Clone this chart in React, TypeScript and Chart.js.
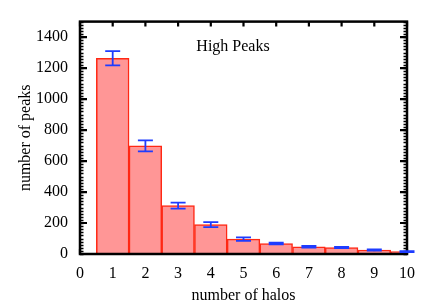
import React, { useEffect, useRef } from 'react';
import { Chart, registerables } from 'chart.js';

Chart.register(...registerables);

// ---- data ----
const halos = [1, 2, 3, 4, 5, 6, 7, 8, 9, 10];
const peaks = [1263, 698, 312, 190, 96, 68, 47, 42, 26, 15];
const peakErrors = [46, 36, 19, 16, 11, 6, 5, 4, 4, 3];
const xTicks = [0, 1, 2, 3, 4, 5, 6, 7, 8, 9, 10];
const yTicks = [0, 200, 400, 600, 800, 1000, 1200, 1400];
const yMax = 1500;
const yMinorStep = 20;
const panelTitle = 'High Peaks';
const panelTitleAt = { x: 4.68, y: 1335 };
const xAxisTitle = 'number of halos';
const yAxisTitle = 'number of peaks';

const FONT = '"Liberation Serif", "Times New Roman", serif';

const framePlugin = {
  id: 'gnuplotFrame',
  beforeDatasetsDraw(chart: any) {
    const { ctx, chartArea: a, scales } = chart;
    const ys = scales.y;
    const xs = scales.x;
    ctx.save();
    ctx.strokeStyle = '#000';
    // minor y ticks (left and right)
    ctx.lineWidth = 1.6;
    for (let v = 0; v <= yMax; v += yMinorStep) {
      const py = Math.round(ys.getPixelForValue(v)) + 0.5;
      ctx.beginPath();
      ctx.moveTo(a.left, py);
      ctx.lineTo(a.left + 3.5, py);
      ctx.moveTo(a.right, py);
      ctx.lineTo(a.right - 3.5, py);
      ctx.stroke();
    }
    // major y ticks
    ctx.lineWidth = 2.2;
    for (const v of yTicks) {
      const py = ys.getPixelForValue(v);
      ctx.beginPath();
      ctx.moveTo(a.left, py);
      ctx.lineTo(a.left + 7, py);
      ctx.moveTo(a.right, py);
      ctx.lineTo(a.right - 7, py);
      ctx.stroke();
    }
    // major x ticks (top and bottom)
    for (const v of xTicks) {
      const px = xs.getPixelForValue(v);
      ctx.beginPath();
      ctx.moveTo(px, a.top);
      ctx.lineTo(px, a.top + 5);
      ctx.moveTo(px, a.bottom);
      ctx.lineTo(px, a.bottom - 5);
      ctx.stroke();
    }
    // panel title
    ctx.fillStyle = '#000';
    ctx.font = '16px ' + FONT;
    ctx.textAlign = 'center';
    ctx.textBaseline = 'middle';
    ctx.fillText(panelTitle, xs.getPixelForValue(panelTitleAt.x), ys.getPixelForValue(panelTitleAt.y));
    ctx.restore();
  },
  afterDatasetsDraw(chart: any) {
    const { ctx, chartArea: a, scales } = chart;
    const xs = scales.x;
    const ys = scales.y;
    ctx.save();
    // border
    ctx.strokeStyle = '#000';
    ctx.lineWidth = 2.5;
    ctx.strokeRect(a.left, a.top, a.right - a.left, a.bottom - a.top);
    // error bars
    ctx.strokeStyle = 'rgb(30,60,255)';
    ctx.lineWidth = 1.8;
    const cap = 7.5;
    halos.forEach((h, i) => {
      const px = xs.getPixelForValue(h);
      const top = ys.getPixelForValue(peaks[i] + peakErrors[i]);
      const bot = ys.getPixelForValue(peaks[i] - peakErrors[i]);
      ctx.beginPath();
      ctx.moveTo(px, top);
      ctx.lineTo(px, bot);
      ctx.moveTo(px - cap, top);
      ctx.lineTo(px + cap, top);
      ctx.moveTo(px - cap, bot);
      ctx.lineTo(px + cap, bot);
      ctx.stroke();
    });
    ctx.restore();
  },
};

export default function App() {
  const ref = useRef<HTMLCanvasElement>(null);
  useEffect(() => {
    if (!ref.current) return;
    Chart.defaults.font.family = FONT;
    Chart.defaults.font.size = 16;
    Chart.defaults.color = '#000';
    const chart = new Chart(ref.current, {
      type: 'bar',
      data: {
        datasets: [
          {
            data: halos.map((h, i) => ({ x: h, y: peaks[i] })),
            backgroundColor: 'rgb(255,150,150)',
            borderColor: 'rgb(255,40,20)',
            borderWidth: 1.5,
            barPercentage: 1,
            categoryPercentage: 1,
          },
        ],
      },
      options: {
        responsive: false,
        animation: false,
        devicePixelRatio: 1,
        layout: { padding: { top: 20, right: 29, left: 0, bottom: 0 } },
        plugins: { legend: { display: false }, tooltip: { enabled: false } },
        scales: {
          x: {
            type: 'linear',
            offset: false,
            min: 0,
            max: 10,
            grid: { display: false, drawTicks: false },
            border: { display: false },
            ticks: { stepSize: 1, padding: 10, maxRotation: 0, autoSkip: false, callback: (v: any) => String(v) },
            title: { display: true, text: xAxisTitle, padding: { top: 0, bottom: 0 } },
            afterFit: (s: any) => { s.height = 51; },
          },
          y: {
            min: 0,
            max: yMax,
            grid: { display: false, drawTicks: false },
            border: { display: false },
            ticks: { stepSize: 200, padding: 12, includeBounds: false, callback: (v: any) => String(v) },
            title: { display: true, text: yAxisTitle, padding: { top: 16, bottom: 0 } },
            afterFit: (s: any) => { s.width = 80; },
          },
        },
      },
      plugins: [framePlugin],
    });
    return () => chart.destroy();
  }, []);
  return (
    <div style={{ position: 'absolute', left: 0, top: 0, width: 436, height: 305, background: '#fff' }}>
      <canvas ref={ref} width={436} height={305} style={{ display: 'block' }} />
    </div>
  );
}
